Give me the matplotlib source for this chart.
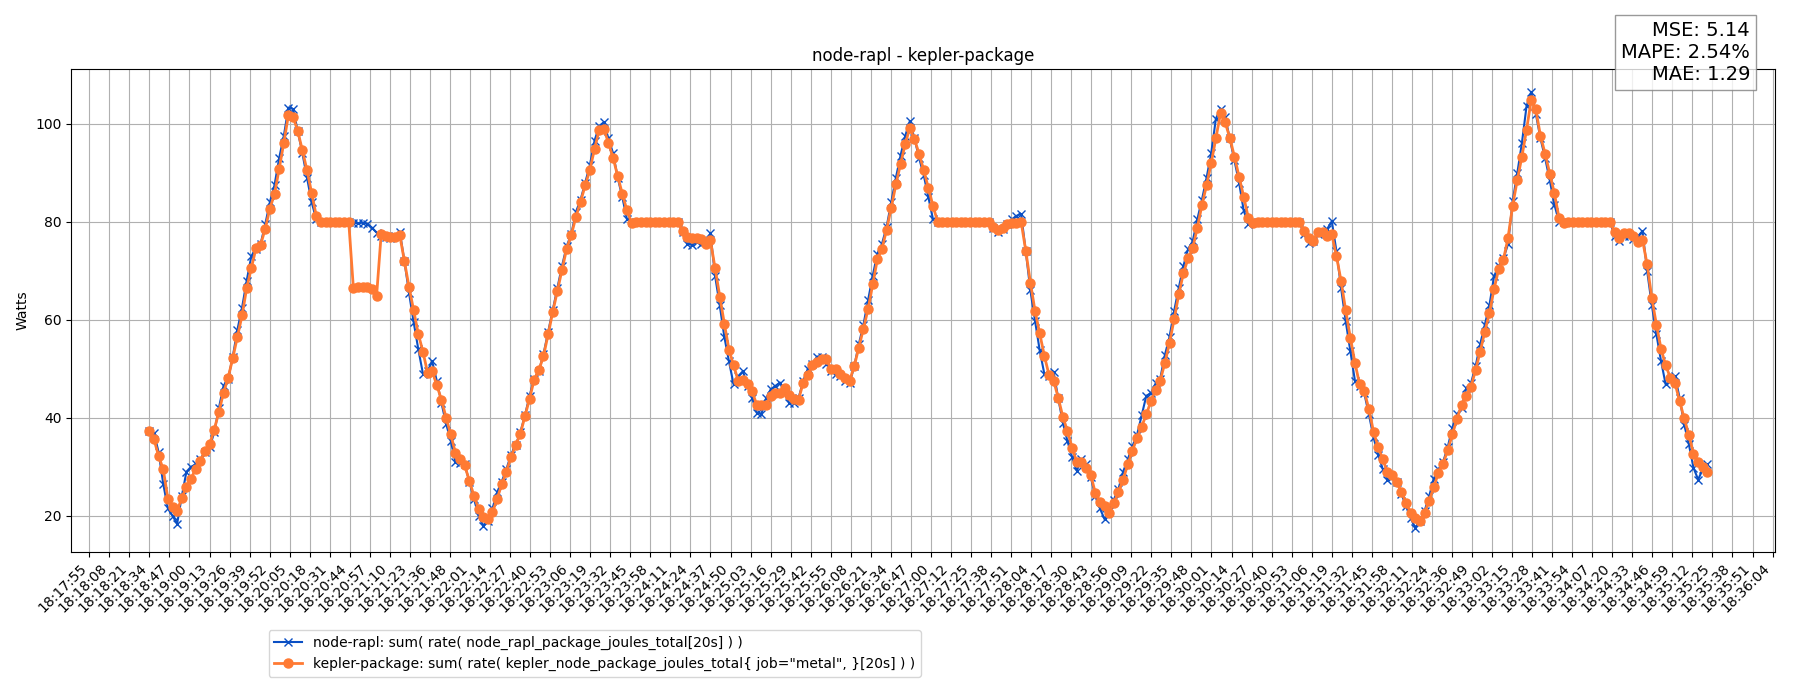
import numpy as np
import matplotlib
matplotlib.use("Agg")
import matplotlib.pyplot as plt

# ---------------- data ----------------
START = "18:18:34.45"      # first sample time
STEP_S = 3.0               # sampling interval (s)

kepler_package = [
    37.4, 35.6, 32.2, 29.5, 23.5, 21.8, 21.0, 23.7, 25.9, 27.6,
    29.6, 31.2, 33.2, 34.6, 37.6, 41.2, 45.1, 48.2, 52.2, 56.5,
    60.9, 66.5, 70.6, 74.6, 75.3, 78.6, 82.7, 85.7, 90.8, 96.1,
    101.8, 101.4, 98.5, 94.6, 90.5, 85.9, 81.2, 80.0, 80.0, 80.0,
    80.0, 80.0, 80.0, 80.0, 66.5, 66.6, 66.6, 66.7, 66.2, 64.8,
    77.5, 77.0, 76.9, 76.8, 77.3, 72.0, 66.7, 61.9, 57.1, 53.5,
    49.2, 49.5, 46.6, 43.7, 40.0, 36.6, 32.9, 31.5, 30.3, 27.2,
    24.1, 21.4, 19.7, 19.3, 20.7, 23.5, 26.4, 29.0, 32.0, 34.4,
    36.7, 40.3, 43.9, 47.8, 49.7, 52.6, 57.0, 61.6, 65.9, 70.1,
    74.5, 77.3, 81.0, 84.1, 87.4, 90.6, 94.8, 98.7, 99.0, 96.1,
    93.1, 89.3, 85.7, 82.3, 79.8, 80.0, 80.0, 80.0, 80.0, 80.0,
    80.0, 80.0, 80.0, 80.0, 80.0, 78.1, 76.9, 76.6, 76.7, 76.5,
    75.4, 76.2, 70.5, 64.7, 59.2, 53.9, 50.7, 47.5, 47.8, 46.8,
    45.4, 42.6, 42.7, 42.7, 44.4, 45.1, 45.0, 46.1, 44.6, 43.9,
    43.7, 47.1, 48.8, 50.7, 51.4, 51.9, 52.0, 49.9, 49.9, 49.0,
    48.2, 47.5, 50.5, 54.3, 58.2, 62.2, 67.3, 72.3, 74.5, 78.4,
    82.9, 87.6, 91.8, 95.8, 99.2, 96.8, 93.9, 90.5, 86.9, 83.2,
    80.0, 80.0, 80.0, 80.0, 80.0, 80.0, 80.0, 80.0, 80.0, 80.0,
    80.0, 80.0, 79.0, 78.3, 78.8, 79.5, 79.8, 79.8, 80.0, 74.1,
    67.6, 61.8, 57.3, 52.7, 48.8, 47.6, 44.1, 40.2, 37.3, 33.9,
    31.0, 31.0, 29.7, 28.4, 24.7, 22.9, 22.0, 20.6, 22.7, 24.8,
    27.4, 30.5, 33.3, 35.9, 38.2, 40.7, 43.4, 45.6, 47.6, 51.2,
    55.3, 60.1, 65.2, 69.5, 72.5, 74.6, 78.8, 83.4, 87.5, 92.0,
    97.1, 102.1, 100.3, 97.1, 93.3, 89.2, 85.1, 80.8, 79.8, 80.0,
    80.0, 80.0, 80.0, 80.0, 80.0, 80.0, 80.0, 80.0, 80.0, 78.1,
    76.6, 76.1, 77.9, 78.0, 77.1, 77.4, 73.0, 67.9, 61.9, 56.3,
    51.2, 46.8, 45.4, 41.8, 37.1, 34.1, 31.5, 28.9, 28.4, 26.9,
    24.9, 22.7, 20.6, 19.5, 19.0, 20.6, 23.1, 25.9, 28.8, 30.6,
    33.4, 36.6, 39.8, 42.7, 44.4, 46.3, 49.7, 53.5, 57.6, 61.4,
    66.3, 70.4, 72.2, 76.7, 83.3, 88.5, 93.3, 98.8, 104.8, 102.9,
    97.5, 93.9, 89.8, 85.8, 80.8, 79.8, 80.0, 80.0, 80.0, 80.0,
    80.0, 80.0, 80.0, 80.0, 80.0, 80.0, 77.9, 76.6, 77.8, 77.6,
    77.1, 75.9, 76.3, 71.3, 64.5, 59.0, 54.1, 50.7, 48.2, 47.1,
    43.4, 39.9, 36.5, 32.7, 31.0, 30.0, 29.0,
]

node_rapl = [
    37.4, 36.8, 33.0, 26.5, 21.5, 20.0, 18.4, 24.0, 29.0, 30.0,
    30.5, 31.5, 33.0, 34.0, 37.0, 42.0, 46.5, 48.0, 52.5, 58.0,
    62.5, 68.0, 73.0, 74.5, 75.5, 79.5, 84.0, 87.5, 93.0, 97.5,
    103.3, 103.0, 98.5, 94.0, 89.0, 84.0, 80.5, 80.0, 80.0, 80.0,
    80.0, 80.0, 80.0, 80.0, 79.8, 79.7, 79.8, 79.6, 78.8, 77.8,
    77.0, 76.8, 76.6, 77.0, 78.0, 72.0, 65.5, 59.5, 54.0, 49.0,
    49.5, 51.5, 47.5, 43.0, 38.8, 35.3, 31.0, 30.8, 30.5, 27.0,
    23.5, 20.0, 18.0, 19.0, 21.5, 24.8, 27.0, 29.5, 32.5, 34.5,
    37.0, 40.5, 44.5, 48.0, 49.5, 53.0, 57.5, 62.0, 66.5, 71.0,
    75.0, 77.5, 82.0, 84.5, 88.0, 91.5, 96.5, 99.5, 100.3, 97.0,
    94.0, 89.0, 85.0, 80.5, 80.0, 80.0, 80.0, 80.0, 80.0, 80.0,
    80.0, 80.0, 80.0, 80.0, 80.0, 78.0, 75.5, 75.3, 75.8, 75.5,
    76.0, 77.6, 69.0, 63.0, 56.5, 51.5, 46.8, 48.5, 49.5, 46.5,
    44.0, 41.0, 40.8, 44.0, 45.8, 46.5, 47.2, 45.0, 43.0, 43.0,
    44.0, 47.5, 50.0, 51.0, 52.5, 52.5, 51.0, 49.5, 49.0, 48.5,
    47.5, 47.0, 50.5, 55.0, 59.0, 64.0, 69.0, 73.5, 75.5, 79.0,
    84.0, 89.0, 93.5, 97.5, 100.5, 97.0, 93.0, 89.5, 85.0, 80.5,
    80.0, 80.0, 80.0, 80.0, 80.0, 80.0, 80.0, 80.0, 80.0, 80.0,
    80.0, 80.0, 78.8, 78.0, 78.5, 79.5, 80.5, 81.2, 81.6, 74.0,
    66.0, 59.8, 53.8, 49.0, 48.5, 49.4, 44.0, 39.0, 35.2, 32.0,
    29.2, 31.5, 30.5, 28.0, 24.0, 21.5, 19.3, 21.0, 23.3, 25.5,
    29.0, 31.5, 34.2, 36.5, 40.5, 44.5, 45.0, 47.0, 48.0, 52.8,
    56.5, 61.8, 66.5, 71.0, 74.4, 76.0, 80.5, 84.5, 89.0, 94.0,
    101.0, 103.1, 101.4, 97.0, 92.5, 88.0, 82.3, 79.5, 80.0, 80.0,
    80.0, 80.0, 80.0, 80.0, 80.0, 80.0, 80.0, 80.0, 80.0, 77.5,
    75.7, 76.0, 77.5, 78.0, 78.5, 80.1, 74.0, 66.5, 59.7, 53.6,
    47.5, 46.5, 45.0, 40.7, 36.0, 32.5, 29.5, 27.4, 28.0, 27.0,
    24.5, 22.0, 19.5, 17.6, 19.0, 21.0, 24.0, 27.6, 29.5, 31.0,
    34.0, 38.0, 40.7, 42.0, 46.1, 47.0, 50.5, 55.0, 59.0, 63.0,
    68.9, 71.0, 72.5, 75.4, 84.2, 89.9, 96.1, 103.6, 106.5, 102.0,
    97.0, 93.0, 88.5, 83.5, 80.0, 80.0, 80.0, 80.0, 80.0, 80.0,
    80.0, 80.0, 80.0, 80.0, 80.0, 80.0, 77.0, 76.1, 77.0, 77.0,
    76.5, 77.0, 78.1, 70.0, 63.1, 57.0, 51.6, 46.8, 47.5, 48.5,
    44.1, 38.6, 34.6, 29.8, 27.4, 29.5, 30.5,
]

tick_labels = [
    "18:17:55", "18:18:08", "18:18:21", "18:18:34", "18:18:47", "18:19:00",
    "18:19:13", "18:19:26", "18:19:39", "18:19:52", "18:20:05", "18:20:18",
    "18:20:31", "18:20:44", "18:20:57", "18:21:10", "18:21:23", "18:21:36",
    "18:21:48", "18:22:01", "18:22:14", "18:22:27", "18:22:40", "18:22:53",
    "18:23:06", "18:23:19", "18:23:32", "18:23:45", "18:23:58", "18:24:11",
    "18:24:24", "18:24:37", "18:24:50", "18:25:03", "18:25:16", "18:25:29",
    "18:25:42", "18:25:55", "18:26:08", "18:26:21", "18:26:34", "18:26:47",
    "18:27:00", "18:27:12", "18:27:25", "18:27:38", "18:27:51", "18:28:04",
    "18:28:17", "18:28:30", "18:28:43", "18:28:56", "18:29:09", "18:29:22",
    "18:29:35", "18:29:48", "18:30:01", "18:30:14", "18:30:27", "18:30:40",
    "18:30:53", "18:31:06", "18:31:19", "18:31:32", "18:31:45", "18:31:58",
    "18:32:11", "18:32:24", "18:32:36", "18:32:49", "18:33:02", "18:33:15",
    "18:33:28", "18:33:41", "18:33:54", "18:34:07", "18:34:20", "18:34:33",
    "18:34:46", "18:34:59", "18:35:12", "18:35:25", "18:35:38", "18:35:51",
    "18:36:04",
]

metrics_text = "MSE: 5.14\nMAPE: 2.54%\nMAE: 1.29"
label_rapl = "node-rapl: sum( rate( node_rapl_package_joules_total[20s] ) )"
label_kepler = 'kepler-package: sum( rate( kepler_node_package_joules_total{ job="metal", }[20s] ) )'


def to_sec(s):
    h, m, sec = s.split(":")
    return int(h) * 3600 + int(m) * 60 + float(sec)


t0 = to_sec(START)
x_k = t0 + STEP_S * np.arange(len(kepler_package))
x_r = t0 + STEP_S * np.arange(len(node_rapl))

tick_pos = np.linspace(to_sec(tick_labels[0]) + 0.6, to_sec(tick_labels[-1]) + 0.6,
                       len(tick_labels))

# ---------------- figure ----------------
fig = plt.figure(figsize=(18, 7), dpi=100)
ax = fig.add_axes([0.0396, 0.212, 0.9464, 0.689])

BLUE = "#0a4fc4"
ORANGE = "#ff7a33"

l1, = ax.plot(x_r, node_rapl, color=BLUE, marker="x", markersize=6,
              linewidth=1.5, label=label_rapl)
l2, = ax.plot(x_k, kepler_package, color=ORANGE, marker="o", markersize=6.5,
              linewidth=2, label=label_kepler)

ax.set_xlim(t0 - 50.5, t0 + 1051.6)
ax.set_ylim(12.7, 111.1)
ax.set_xticks(tick_pos)
ax.set_xticklabels(tick_labels, rotation=45, ha="right")
ax.set_yticks([20, 40, 60, 80, 100])
ax.grid(True)
ax.set_axisbelow(True)
ax.set_ylabel("Watts")
ax.set_title("node-rapl - kepler-package")

fig.legend(handles=[l1, l2], loc="upper left",
           bbox_to_anchor=(268.7 / 1800, 1 - 630.3 / 700), borderaxespad=0)

fig.text(1750 / 1800, 1 - 21 / 700, metrics_text, ha="right", va="top",
         fontsize=14, multialignment="right",
         bbox=dict(boxstyle="square", facecolor="white", edgecolor="gray", alpha=0.8))

fig.savefig("out.png", dpi=100)
